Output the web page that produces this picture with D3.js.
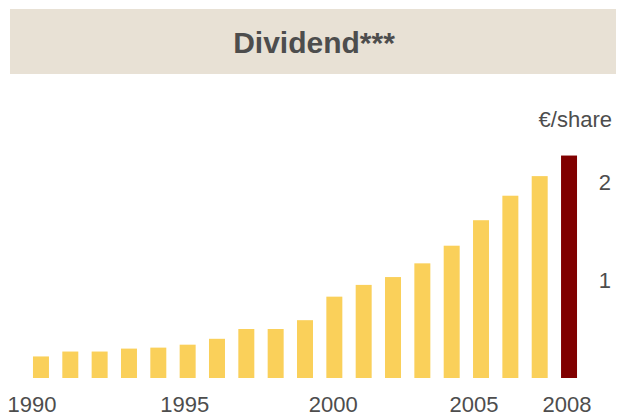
<!DOCTYPE html>
<html>
<head>
<meta charset="utf-8">
<script src="https://cdn.jsdelivr.net/npm/d3@7"></script>
<style>
  body { margin: 0; background: #fff; }
  svg { display: block; font-family: "Liberation Sans", Arial, sans-serif; }
</style>
</head>
<body>
<svg id="chart"></svg>
<script>
// data
const years = d3.range(1990, 2009);
const dividends = [0.22, 0.27, 0.27, 0.30, 0.31, 0.34, 0.40, 0.50, 0.50, 0.59,
                   0.83, 0.95, 1.03, 1.17, 1.35, 1.61, 1.86, 2.06, 2.27];
const yearLabels = [1990, 1995, 2000, 2005, 2008];
const valueTicks = [1, 2];
const title = 'Dividend***';
const unit = '€/share';

const width = 617, height = 416;
const textColor = '#4d4d4d';

const svg = d3.select('#chart')
  .attr('width', width)
  .attr('height', height);

// title banner
svg.append('rect')
  .attr('x', 10).attr('y', 9)
  .attr('width', 606).attr('height', 65)
  .attr('fill', '#e8e1d5');

svg.append('text')
  .attr('x', 314).attr('y', 53)
  .attr('text-anchor', 'middle')
  .attr('font-size', '30px')
  .attr('font-weight', 'bold')
  .attr('fill', textColor)
  .text(title);

const x = d3.scaleBand()
  .domain(years)
  .range([26.3, 583.7])
  .paddingInner(0.455)
  .paddingOuter(0.2275);

const y = d3.scaleLinear()
  .domain([0, 2])
  .range([378, 182]);

// bars
svg.append('g')
  .selectAll('rect')
  .data(years)
  .join('rect')
  .attr('x', d => x(d))
  .attr('width', x.bandwidth())
  .attr('y', (d, i) => y(dividends[i]))
  .attr('height', (d, i) => y(0) - y(dividends[i]))
  .attr('fill', d => d === 2008 ? '#800000' : '#fad05a');

// right value axis, labels only
svg.append('g')
  .selectAll('text')
  .data(valueTicks)
  .join('text')
  .attr('x', 611)
  .attr('y', d => y(d))
  .attr('dy', '0.36em')
  .attr('text-anchor', 'end')
  .attr('font-size', '22px')
  .attr('fill', textColor)
  .text(d => d);

svg.append('text')
  .attr('x', 612).attr('y', 127)
  .attr('text-anchor', 'end')
  .attr('font-size', '22px')
  .attr('fill', textColor)
  .text(unit);

// year labels sit a little off the bar centres in the original
const labelNudge = { 1990: -9, 1995: -3, 2000: -1, 2005: -7, 2008: -2 };
svg.append('g')
  .selectAll('text')
  .data(yearLabels)
  .join('text')
  .attr('x', d => x(d) + x.bandwidth() / 2 + (labelNudge[d] || 0))
  .attr('y', 412)
  .attr('text-anchor', 'middle')
  .attr('font-size', '22px')
  .attr('fill', textColor)
  .text(d => d);
</script>
</body>
</html>
